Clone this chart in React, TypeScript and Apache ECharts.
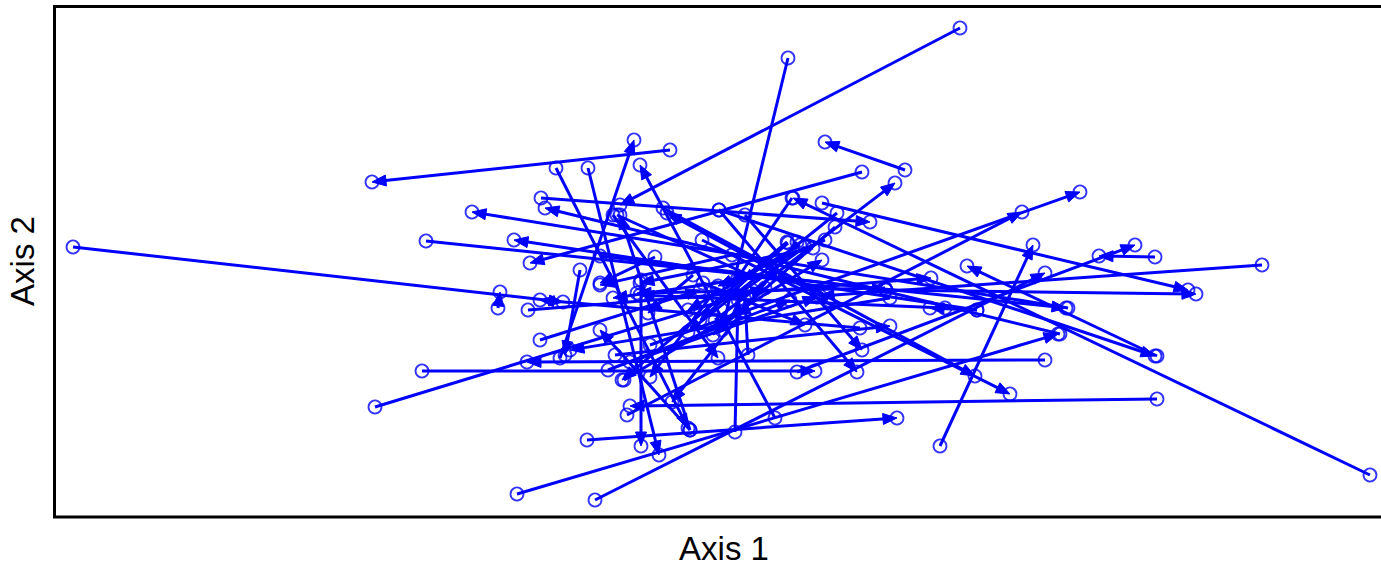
import React, { useEffect, useRef } from "react";
import * as echarts from "echarts";

// Arrow tails (first configuration) and heads (second configuration), axis units
const fromX = [-0.030, -0.627, 0.260, 0.088, 0.205, 0.162, 0.015, -0.140, -0.144, -0.112, 0.075, -0.159, 0.360, 0.019, 0.670, -0.274, 0.122, 0.277, -0.183, -0.113, -0.105, 0.240, 0.455, 0.097, 0.562, 0.186, 0.457, 0.002, -0.278, -0.325, -0.037, -0.050, -0.073, 0.457, -0.172, -0.202, 0.345, 0.368, -0.083, -0.100, 0.032, 0.113, 0.125, 0.100, -0.120, -0.160, -0.092, -0.076, -0.085, 0.035, 0.048, -0.010, 0.160, 0.088, 0.245, 0.092, 0.128, -0.010, 0.045, 0.019, -0.087, 0.277, -0.045, -0.007, 0.037, 0.003, 0.017, 0.087, 0.097, 0.105, 0.137, 0.135, -0.070, 0.185, 0.190, -0.059];
const fromY = [0.140, 0.043, 0.262, 0.232, 0.120, 0.118, -0.030, -0.068, 0.122, 0.122, -0.128, 0.092, -0.044, 0.080, -0.185, 0.049, 0.087, -0.020, -0.204, -0.150, -0.210, -0.156, 0.033, -0.082, 0.025, 0.000, -0.109, 0.050, -0.081, -0.117, 0.082, -0.055, -0.125, -0.066, -0.020, -0.018, -0.070, -0.018, 0.075, 0.034, 0.035, 0.042, 0.050, 0.045, 0.020, -0.050, -0.080, -0.090, -0.065, -0.142, -0.065, -0.140, -0.038, 0.047, -0.018, 0.092, -0.010, -0.140, 0.075, 0.080, 0.075, -0.020, 0.033, 0.015, 0.010, 0.007, 0.002, 0.048, 0.048, 0.043, 0.077, 0.063, -0.072, 0.002, -0.008, 0.010];
const toX = [-0.328, -0.137, -0.080, 0.022, 0.125, -0.170, 0.195, -0.066, -0.012, -0.041, -0.060, 0.170, -0.155, 0.455, 0.093, 0.366, 0.488, -0.186, 0.358, 0.197, 0.345, 0.333, 0.399, 0.435, 0.120, 0.496, -0.070, 0.310, 0.115, 0.065, 0.275, 0.380, 0.322, 0.267, 0.231, -0.200, -0.173, -0.228, 0.060, 0.186, -0.100, -0.060, 0.018, -0.012, -0.135, 0.000, 0.090, 0.122, 0.190, 0.038, 0.045, -0.100, -0.160, 0.000, -0.060, 0.033, -0.033, -0.080, 0.162, 0.157, 0.018, 0.230, -0.100, -0.052, -0.087, 0.105, -0.050, -0.078, -0.028, 0.030, -0.012, 0.013, 0.117, -0.063, -0.130, -0.059];
const toY = [0.108, -0.012, 0.085, -0.040, 0.148, 0.027, 0.107, 0.150, -0.138, -0.165, 0.125, 0.068, 0.082, -0.066, 0.092, -0.018, 0.000, 0.050, -0.044, -0.128, 0.017, 0.045, 0.034, 0.045, -0.006, -0.004, -0.116, -0.104, -0.081, 0.002, -0.086, 0.098, 0.078, 0.024, 0.012, -0.002, -0.072, 0.078, 0.010, 0.000, 0.005, 0.007, 0.004, -0.020, -0.065, 0.000, -0.010, 0.030, -0.036, -0.010, -0.010, -0.040, -0.010, -0.030, -0.005, 0.005, 0.077, 0.075, -0.060, -0.082, -0.068, -0.018, 0.007, -0.023, -0.008, -0.035, -0.087, -0.090, -0.112, -0.010, -0.042, -0.045, -0.007, -0.003, -0.060, -0.156];

const xRange = [-0.646, 0.681];
const yRange = [-0.227, 0.283];
const xTitle = "Axis 1";
const yTitle = "Axis 2";

export default function App() {
  const ref = useRef<HTMLDivElement>(null);
  useEffect(() => {
    if (!ref.current) return;
    const chart = echarts.init(ref.current, null, { renderer: "svg" });
    const arrows = fromX.map((v, i) => [v, fromY[i], toX[i], toY[i]]);
    const pts: number[][] = [];
    fromX.forEach((v, i) => {
      pts.push([v, fromY[i]]);
      pts.push([toX[i], toY[i]]);
    });
    const blue = "#0000ff";
    const frameStyle = { stroke: "#000", lineWidth: 3 };
    chart.setOption({
      animation: false,
      grid: { left: 54, top: 7, right: 0, height: 510, show: false },
      xAxis: {
        type: "value",
        min: xRange[0],
        max: xRange[1],
        axisLine: { show: false },
        axisTick: { show: false },
        axisLabel: { show: false },
        splitLine: { show: false },
      },
      yAxis: {
        type: "value",
        min: yRange[0],
        max: yRange[1],
        axisLine: { show: false },
        axisTick: { show: false },
        axisLabel: { show: false },
        splitLine: { show: false },
      },
      graphic: [
        {
          type: "polyline",
          shape: { points: [[1390, 6.5], [54.5, 6.5], [54.5, 517], [1390, 517]] },
          style: { ...frameStyle, fill: null },
          z: 10,
        },
        {
          type: "text",
          x: 724,
          y: 548,
          style: {
            text: xTitle,
            font: '33px "Liberation Sans", Arial, sans-serif',
            fill: "#000",
            align: "center",
            verticalAlign: "middle",
          },
        },
        {
          type: "text",
          x: 22,
          y: 261,
          rotation: Math.PI / 2,
          style: {
            text: yTitle,
            font: '33px "Liberation Sans", Arial, sans-serif',
            fill: "#000",
            align: "center",
            verticalAlign: "middle",
          },
        },
      ],
      series: [
        {
          type: "custom",
          data: arrows,
          encode: { x: [0, 2], y: [1, 3] },
          clip: false,
          renderItem: (params: any, api: any) => {
            const p0 = api.coord([api.value(0), api.value(1)]);
            const p1 = api.coord([api.value(2), api.value(3)]);
            const dx = p1[0] - p0[0];
            const dy = p1[1] - p0[1];
            const len = Math.sqrt(dx * dx + dy * dy) || 1;
            const ux = dx / len;
            const uy = dy / len;
            const hl = 14;
            const hw = 5.5;
            const bx = p1[0] - ux * hl;
            const by = p1[1] - uy * hl;
            return {
              type: "group",
              children: [
                {
                  type: "line",
                  shape: { x1: p0[0], y1: p0[1], x2: p1[0] - ux * 4, y2: p1[1] - uy * 4 },
                  style: { stroke: blue, lineWidth: 3 },
                },
                {
                  type: "polygon",
                  shape: {
                    points: [
                      [p1[0], p1[1]],
                      [bx - uy * hw, by + ux * hw],
                      [bx + uy * hw, by - ux * hw],
                    ],
                  },
                  style: { fill: blue, stroke: blue, lineWidth: 1 },
                },
              ],
            };
          },
          z: 2,
        },
        {
          type: "scatter",
          data: pts,
          symbol: "circle",
          symbolSize: 13,
          itemStyle: { color: "rgba(0,0,0,0)", borderColor: blue, borderWidth: 1.8 },
          z: 3,
        },
      ],
    });
    return () => chart.dispose();
  }, []);
  return (
    <div
      ref={ref}
      style={{ position: "fixed", left: 0, top: 0, width: 1381, height: 566, background: "#fff" }}
    />
  );
}
